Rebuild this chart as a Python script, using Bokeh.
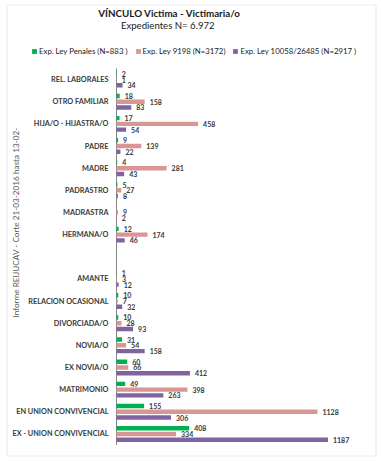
import math
from bokeh.plotting import figure
from bokeh.models import (ColumnDataSource, Range1d, Label, Legend, LegendItem, BoxAnnotation)
from bokeh.transform import dodge
from bokeh.core.properties import value
from bokeh.embed import file_html
from bokeh.resources import INLINE

# ---- data ----
categories = ["REL. LABORALES", "OTRO FAMILIAR", "HIJA/O - HIJASTRA/O", "PADRE", "MADRE",
              "PADRASTRO", "MADRASTRA", "HERMANA/O", "", "AMANTE", "RELACION OCASIONAL",
              "DIVORCIADA/O", "NOVIA/O", "EX NOVIA/O", "MATRIMONIO", "EN UNION CONVIVENCIAL",
              "EX - UNION CONVIVENCIAL"]
penales = [2, 18, 17, 9, 4, 5, 0, 12, None, 1, 10, 10, 31, 60, 49, 155, 408]
ley9198 = [1, 158, 458, 139, 281, 27, 9, 174, None, 3, 7, 28, 54, 66, 398, 1128, 334]
ley10058 = [34, 83, 54, 22, 43, 8, 2, 46, None, 12, 32, 93, 158, 412, 263, 306, 1187]
series_names = ["Exp. Ley Penales (N=883 )", "Exp. Ley 9198 (N=3172)", "Exp. Ley 10058/26485 (N=2917 )"]
title_text = "VÍNCULO Victima - Victimaria/o"
subtitle_text = "Expedientes N=  6.972"
ylabel_text = "Informe REIJUCAV - Corte 21-03-2016 hasta 13-02-"

colors = ["#00b050", "#d99694", "#8064a2"]
FONT = "Lato"

# ---- layout constants (pixels) ----
W, H = 381, 462
AXIS_X = 116          # pixel position of the value axis
PLOT_TOP, PLOT_BOTTOM = 68, 444.5
PX_PER_UNIT = 211.5 / 1187.0
n = len(categories)
slot = (PLOT_BOTTOM - PLOT_TOP) / n

# category slot index (top = 0, going down)
pos_all = [-i for i in range(n)]
idx = [i for i, v in enumerate(penales) if v is not None]
data = {"cat": [categories[i] for i in idx], "pos": [pos_all[i] for i in idx]}
for key, ser in zip(["a", "b", "c"], [penales, ley9198, ley10058]):
    data[key] = [ser[i] for i in idx]
    data[key + "_t"] = [str(ser[i]) if ser[i] else "" for i in idx]
src = ColumnDataSource(data)

p = figure(width=W, height=H,
           x_range=Range1d(-AXIS_X / PX_PER_UNIT, (W - AXIS_X) / PX_PER_UNIT),
           y_range=Range1d(-(n - 1) - 0.5 - (H - PLOT_BOTTOM) / slot, 0.5 + PLOT_TOP / slot),
           output_backend="svg", toolbar_location=None,
           x_axis_location=None, y_axis_location=None,
           min_border_left=0, min_border_right=0, min_border_top=0, min_border_bottom=0)
p.outline_line_color = None
p.xgrid.visible = False
p.ygrid.visible = False

# value axis line
p.segment(x0=[0], x1=[0], y0=[0.5], y1=[-(n - 1) - 0.5], line_color="#868686", line_width=1)

# category labels
p.text(x=0, y="pos", text="cat", source=src, x_offset=-8,
       text_align="right", text_baseline="middle",
       text_font=value(FONT), text_font_size="7.3px", text_font_style="bold",
       text_color="#3a3a3a")

offsets = [0.26, 0.0, -0.26]
renderers = []
for key, off, col in zip(["a", "b", "c"], offsets, colors):
    ypos = dodge("pos", off)
    r = p.hbar(y=ypos, left=0, right=key, height=0.2, source=src,
               fill_color=col, line_color=None)
    renderers.append(r)
    p.text(x=key, y=ypos, text=key + "_t", source=src, x_offset=5,
           text_baseline="middle", text_align="left",
           text_font=value(FONT), text_font_size="7px", text_font_style="bold",
           text_color="#3a3a3a")

# titles
p.add_layout(Label(x=169, y=H - 12.5, x_units="screen", y_units="screen",
                   text=title_text, text_align="center", text_baseline="middle",
                   text_font=FONT, text_font_size="9.8px", text_font_style="bold",
                   text_color="#1a1a1a"))
p.add_layout(Label(x=168.5, y=H - 25, x_units="screen", y_units="screen",
                   text=subtitle_text, text_align="center", text_baseline="middle",
                   text_font=FONT, text_font_size="9.6px",
                   text_color="#1a1a1a"))
p.add_layout(Label(x=15, y=H - 222, x_units="screen", y_units="screen",
                   text=ylabel_text, text_align="center", text_baseline="middle",
                   angle=math.pi / 2,
                   text_font=FONT, text_font_size="8.2px",
                   text_color="#595959"))

legend = Legend(items=[LegendItem(label=nm, renderers=[r]) for nm, r in zip(series_names, renderers)],
                orientation="horizontal", location=(31, H - 55.5),
                glyph_width=6, glyph_height=6, label_height=8, label_standoff=2,
                spacing=7, padding=0, margin=0,
                label_text_font=FONT, label_text_font_size="7.8px",
                label_text_color="#1a1a1a",
                border_line_color=None, background_fill_alpha=0)
p.add_layout(legend)

# chart border
p.add_layout(BoxAnnotation(left=6.5, right=375.5, bottom=6.5, top=H - 4.5,
                           left_units="screen", right_units="screen",
                           bottom_units="screen", top_units="screen",
                           fill_alpha=0, line_color="#c4c4c4", line_width=1.2))

open("out.html", "w").write(file_html(p, INLINE))
